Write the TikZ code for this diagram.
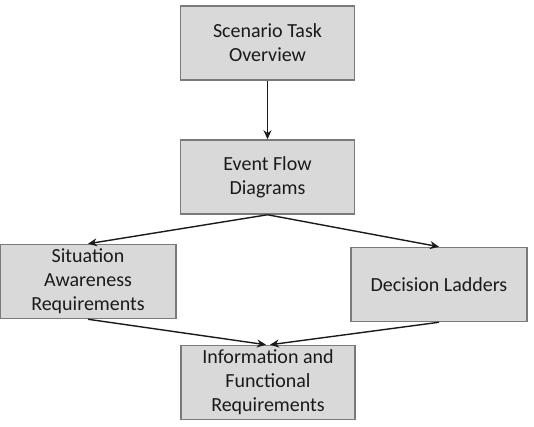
\documentclass[tikz,border=0pt]{standalone}
\usepackage{fontspec}
\setmainfont{Carlito}
\usepackage{tikz}
\usetikzlibrary{arrows.meta, positioning}
\definecolor{BoxFill}{HTML}{D9D9D9}
\definecolor{BoxLine}{HTML}{7A7A7A}
\definecolor{InkDark}{HTML}{1A1A1A}

\begin{document}
\begin{tikzpicture}[x=1pt, y=-1pt, align=center,
    stage/.style={draw=BoxLine, fill=BoxFill, line width=1.5pt, text=InkDark,
      font=\fontsize{20}{24}\selectfont, minimum width=174pt, minimum height=74pt, inner sep=0pt},
    flow/.style={-{Stealth[length=9pt, width=8pt]}, line width=1.4pt, InkDark}]
  \useasboundingbox (0,0) rectangle (534,426);

  \node (overview) [stage] at (267.5,43) {Scenario Task\\Overview};
  \node (eventflow) [stage] at (267.5,177) {Event Flow\\Diagrams};
  \node (sitaware) [stage, minimum width=176pt] at (88,281.5) {Situation\\Awareness\\Requirements};
  \node (ladders) [stage, minimum width=176pt] at (439,284.5) {Decision Ladders};
  \node (inforeq) [stage] at (268,382.5) {Information and\\Functional\\Requirements};

  \draw[flow] (overview) -- (eventflow);
  \draw[flow] (eventflow.south) -- (sitaware.north);
  \draw[flow] (eventflow.south) -- (ladders.north);
  \draw[flow] (sitaware.south) -- ([xshift=-2pt]inforeq.north);
  \draw[flow] (ladders.south) -- ([xshift=2pt]inforeq.north);
\end{tikzpicture}
\end{document}
